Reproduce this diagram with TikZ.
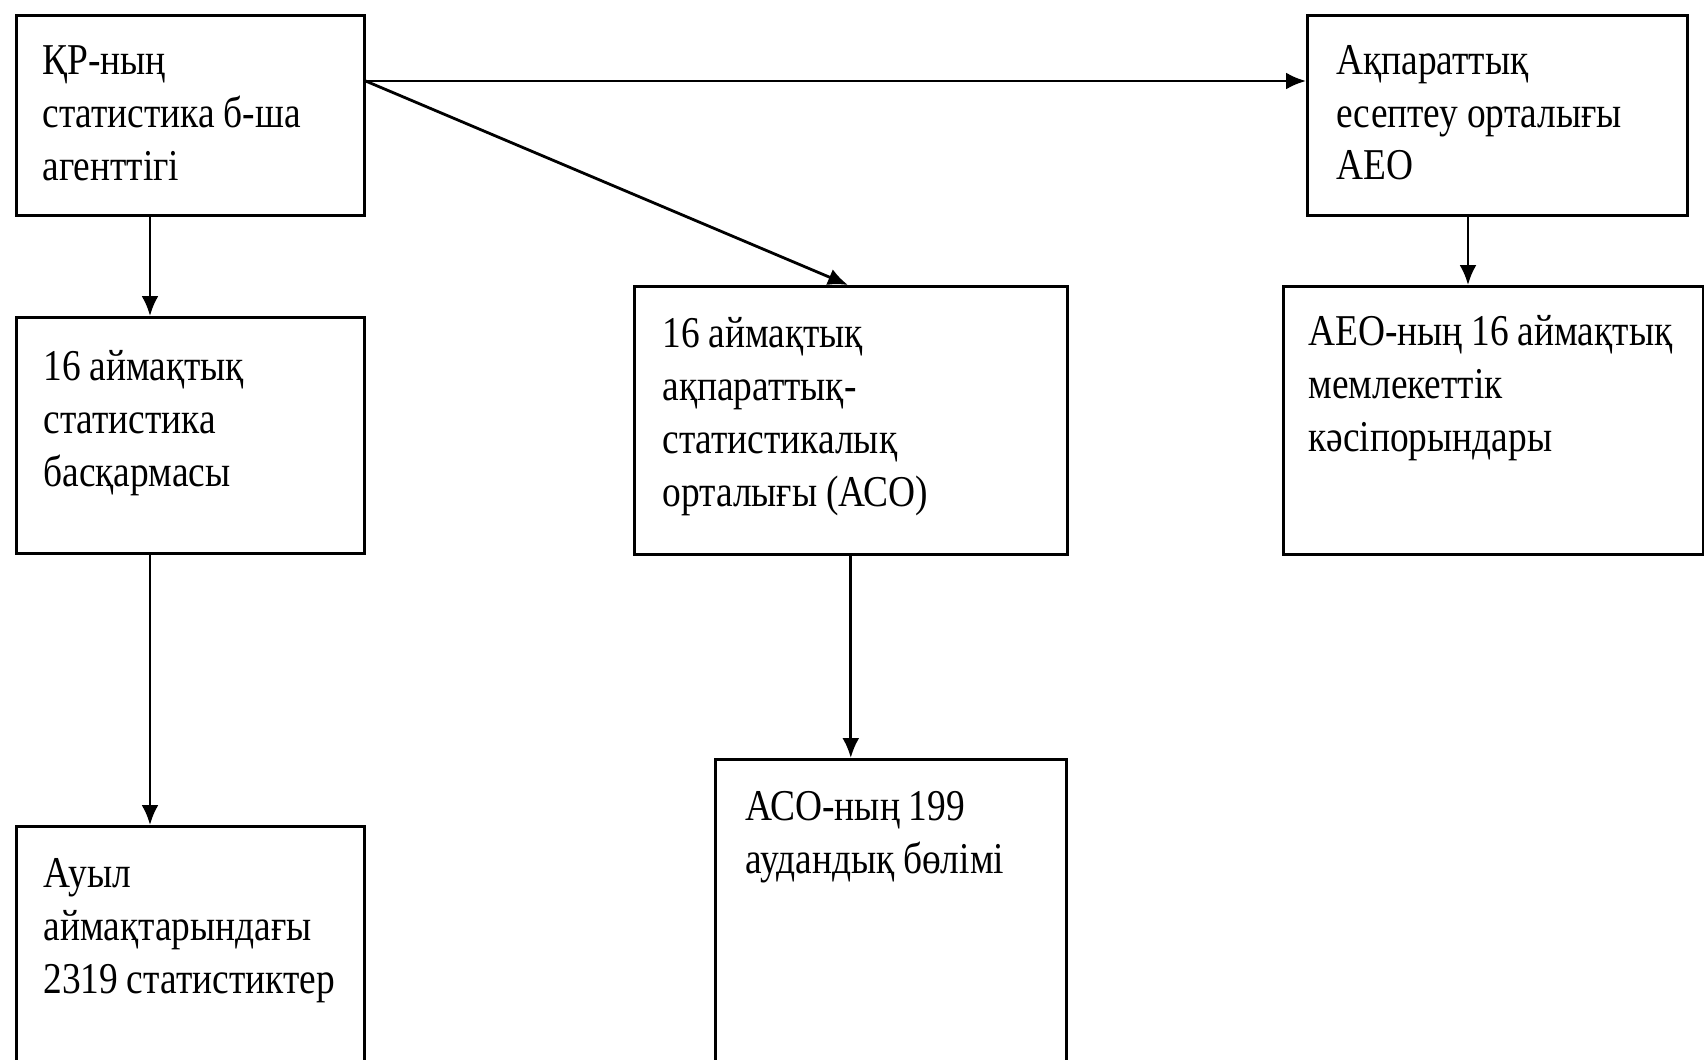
\documentclass[tikz,border=0pt]{standalone}
\usepackage{fontspec}
\setmainfont{Liberation Serif}[FakeStretch=0.85]
\usetikzlibrary{arrows.meta}
\newcommand\mybxfont{\fontsize{22}{26.5}\selectfont}
\newcommand\ws{\hspace{0.2em}}
\begin{document}
\begin{tikzpicture}[x=0.5pt,y=-0.5pt,
  box/.style={draw=black,line width=1.3pt,rectangle,inner sep=0pt,anchor=north west,fill=none},
  txt/.style={inner sep=0pt,anchor=base west,align=left,text width=#1,font=\mybxfont},
  txt/.default=205pt,
  arr/.style={line width=1.4pt,-{Latex[length=10pt,width=8.5pt]}}]
\useasboundingbox (0,0) rectangle (1704,1060);
\fill[white] (0,0) rectangle (1704,1060);
\clip (0,0) rectangle (1704,1060);
% boxes
\node[box,minimum width=174pt,minimum height=100pt] (b1) at (15,14) {};
\node[box,minimum width=190pt,minimum height=100pt] (aeo) at (1306,14) {};
\node[box,minimum width=174pt,minimum height=118pt] (b3) at (15,316) {};
\node[box,minimum width=216.5pt,minimum height=134pt] (aco) at (633,285) {};
\node[box,minimum width=210pt,minimum height=134pt] (aeo16) at (1282,285) {};
\node[box,minimum width=174pt,minimum height=130pt] (aul) at (15,825) {};
\node[box,minimum width=175.5pt,minimum height=160pt] (aco199) at (714,758) {};
% texts
\node[txt] (t1) at (42,75) {ҚР-ның\\статистика\ws б-ша\\агенттігі};
\node[txt] (t2) at (1336,74) {Ақпараттық\\есептеу\ws орталығы\\АЕО};
\node[txt] (t3) at (43,380) {16\ws аймақтық\\статистика\\басқармасы};
\node[txt] (t4) at (662,347) {16\ws аймақтық\\ақпараттық-\\статистикалық\\орталығы\ws (АСО)};
\node[txt] (t5) at (1308,345) {АЕО-ның\ws 16\ws аймақтық\\мемлекеттік\\кәсіпорындары};
\node[txt] (t6) at (43,887) {Ауыл\\аймақтарындағы\\2319\ws статистиктер};
\node[txt] (t7) at (745,820) {АСО-ның\ws 199\\аудандық\ws бөлімі};
% helper coordinates
\coordinate (cx) at (150,0);
\coordinate (hy) at (0,81);
\coordinate (dx) at (848,0);
\coordinate (ex) at (1468,0);
% connectors
\draw[arr] (b1.south -| cx) -- (b3.north -| cx);
\draw[arr] (b3.south -| cx) -- (aul.north -| cx);
\draw[arr] (b1.east |- hy) -- (aeo.west |- hy);
\draw[arr] (b1.east |- hy) -- (aco.north -| dx);
\draw[arr] (aeo.south -| ex) -- (aeo16.north -| ex);
\draw[arr] (aco.south) -- (aco199.north -| aco.south);
\end{tikzpicture}
\end{document}
